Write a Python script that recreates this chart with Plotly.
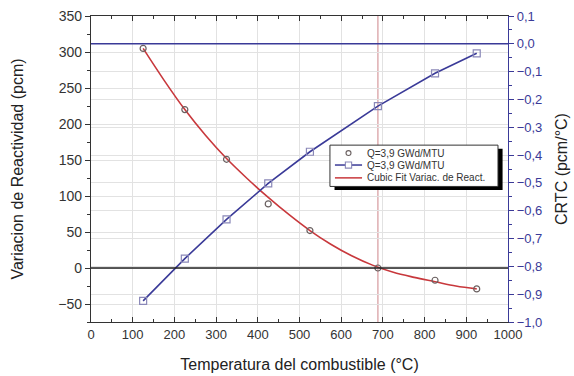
import plotly.graph_objects as go

# Data
temp_react = [125, 225, 325, 425, 525, 688, 825, 925]
reactividad = [305, 220, 151, 89, 52, 0, -17, -29]

temp_crtc = [125, 225, 325, 425, 525, 688, 825, 925]
crtc = [-0.924, -0.772, -0.631, -0.502, -0.388, -0.224, -0.106, -0.034]

fit_x = [125, 175, 225, 275, 325, 375, 425, 475, 525, 575, 625, 675, 725, 775, 825, 875, 925]
fit_y = [305, 261, 220, 184, 152, 124, 98, 74, 52, 33, 17, 4, -6, -13, -19, -25, -29]

x_cross = 688

legend_labels = ["Q=3,9 GWd/MTU", "Q=3,9 GWd/MTU", "Cubic Fit Variac. de React."]

BLUE = "#3a3a98"
RED = "#c8383c"
GRID = "#e2e2e2"
CIRC = "#6a6060"
SQ = "#8a88b8"
FONT = "Liberation Sans, Arial, sans-serif"

fig = go.Figure()

fig.add_trace(go.Scatter(
    x=fit_x, y=fit_y, mode="lines", name=legend_labels[2],
    line=dict(color=RED, width=1.6, shape="spline")))

fig.add_trace(go.Scatter(
    x=temp_react, y=reactividad, mode="markers", name=legend_labels[0],
    marker=dict(symbol="circle-open", size=6, color=CIRC, line=dict(width=1.2))))

fig.add_trace(go.Scatter(
    x=temp_crtc, y=crtc, mode="lines+markers", name=legend_labels[1], yaxis="y2",
    line=dict(color=BLUE, width=1.6),
    marker=dict(symbol="square-open", size=7, color=SQ, line=dict(width=1.2))))

# ---- legend drawn as a boxed key (paper coordinates) ----
bx0, bx1, by0, by1 = 0.573, 0.976, 0.443, 0.578
sdx, sdy = 0.011, 0.012
row_y = [0.552, 0.513, 0.471]
sym_x0, sym_x1, sym_c = 0.585, 0.650, 0.6175
txt_x = 0.657

shapes = [
    dict(type="line", xref="paper", x0=0, x1=1, yref="y", y0=0, y1=0,
         line=dict(color="#222222", width=1.5), layer="above"),
    dict(type="line", xref="paper", x0=0, x1=1, yref="y2", y0=0, y1=0,
         line=dict(color=BLUE, width=1.5), layer="above"),
    dict(type="line", xref="x", x0=x_cross, x1=x_cross, yref="paper", y0=0, y1=1,
         line=dict(color="#d8a0a4", width=1.3), layer="below"),
    # legend shadow + box
    dict(type="rect", xref="paper", yref="paper", x0=bx0 + sdx, x1=bx1 + sdx,
         y0=by0 - sdy, y1=by1 - sdy, fillcolor="black", line=dict(width=0), layer="above"),
    dict(type="rect", xref="paper", yref="paper", x0=bx0, x1=bx1, y0=by0, y1=by1,
         fillcolor="white", line=dict(color="#333333", width=1), layer="above"),
    # row 1: open circle
    dict(type="circle", xref="paper", yref="paper", x0=sym_c - 0.006, x1=sym_c + 0.006,
         y0=row_y[0] - 0.008, y1=row_y[0] + 0.008, line=dict(color=CIRC, width=1.1), layer="above"),
    # row 2: line + open square
    dict(type="line", xref="paper", yref="paper", x0=sym_x0, x1=sym_x1, y0=row_y[1], y1=row_y[1],
         line=dict(color=BLUE, width=1.5), layer="above"),
    dict(type="rect", xref="paper", yref="paper", x0=sym_c - 0.0075, x1=sym_c + 0.0075,
         y0=row_y[1] - 0.010, y1=row_y[1] + 0.010, fillcolor="white",
         line=dict(color=SQ, width=1.1), layer="above"),
    # row 3: red line
    dict(type="line", xref="paper", yref="paper", x0=sym_x0, x1=sym_x1, y0=row_y[2], y1=row_y[2],
         line=dict(color=RED, width=1.5), layer="above"),
]

annotations = [
    dict(xref="paper", yref="paper", x=txt_x, y=row_y[i], text=legend_labels[i],
         showarrow=False, xanchor="left", yanchor="middle",
         font=dict(size=10, color="#333333", family=FONT))
    for i in range(3)
]

fig.update_layout(
    width=574, height=376,
    margin=dict(l=91, r=66, t=16, b=54),
    paper_bgcolor="white", plot_bgcolor="white",
    separators=",.",
    font=dict(family=FONT, size=13, color="#333333"),
    showlegend=False,
    shapes=shapes,
    annotations=annotations,
    xaxis=dict(
        range=[0, 1000], dtick=100, tick0=0,
        showline=True, linecolor="#333333", linewidth=1.2, mirror="ticks",
        ticks="inside", ticklen=5, tickcolor="#333333",
        minor=dict(dtick=50, ticks="inside", ticklen=3, tickcolor="#333333", showgrid=False),
        showgrid=True, gridcolor=GRID, gridwidth=1, zeroline=False,
        tickfont=dict(size=13, color="#333333"), automargin=False,
        title=dict(text="Temperatura del combustible (°C)", font=dict(size=16, color="#222222"), standoff=18),
    ),
    yaxis=dict(
        range=[-75, 350], dtick=50, tick0=0,
        showline=True, linecolor="#333333", linewidth=1.2,
        ticks="outside", ticklen=5, tickcolor="#333333",
        minor=dict(dtick=25, ticks="outside", ticklen=3, tickcolor="#333333", showgrid=False),
        showgrid=True, gridcolor=GRID, gridwidth=1, zeroline=False,
        tickfont=dict(size=14, color="#333333"), automargin=False,
        title=dict(text="Variacion de Reactividad (pcm)", font=dict(size=16, color="#222222"), standoff=30),
    ),
    yaxis2=dict(
        overlaying="y", side="right",
        range=[-1.0, 0.1], dtick=0.1, tick0=0, tickformat=".1f",
        showline=True, linecolor=BLUE, linewidth=1.2,
        ticks="outside", ticklen=5, tickcolor=BLUE,
        minor=dict(dtick=0.05, ticks="outside", ticklen=3, tickcolor=BLUE, showgrid=False),
        showgrid=True, gridcolor=GRID, gridwidth=1, zeroline=False,
        tickfont=dict(size=13, color=BLUE), automargin=False,
        title=dict(text="CRTC (pcm/°C)", font=dict(size=16, color="#222222"), standoff=14),
    ),
)

fig.write_html("out.html", config={"displayModeBar": False},
               post_script="document.body.style.margin='0';")
